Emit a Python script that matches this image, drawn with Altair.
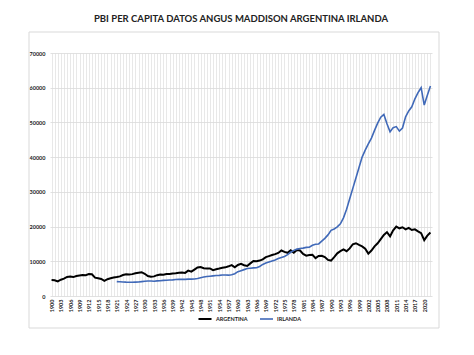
import altair as alt
import pandas as pd

years_arg = list(range(1900, 2023))
argentina = [
    4600, 4550, 4200, 4700, 5000, 5500, 5600, 5450, 5750, 5900,
    6050, 6000, 6300, 6250, 5300, 5100, 4900, 4350, 4850, 5100,
    5300, 5450, 5650, 6050, 6250, 6200, 6300, 6550, 6700, 6850,
    6400, 5750, 5550, 5650, 6000, 6200, 6150, 6350, 6350, 6500,
    6550, 6700, 6750, 6650, 7300, 7000, 7600, 8200, 8350, 8000,
    7900, 7950, 7450, 7700, 7900, 8150, 8250, 8550, 8900, 8250,
    8950, 9250, 8850, 8650, 9400, 10100, 10000, 10200, 10550, 11200,
    11500, 11800, 12050, 12400, 13100, 12700, 12450, 13150, 12450, 13250,
    13100, 12100, 11600, 11800, 11850, 10900, 11550, 11600, 11200, 10400,
    10200, 11200, 12300, 12900, 13400, 12900, 13700, 14900, 15200, 14700,
    14300, 13600, 12200, 13100, 14300, 15200, 16400, 17600, 18400, 17200,
    18900, 20000, 19500, 19800, 19200, 19600, 19000, 19200, 18600, 18100,
    16100, 17400, 18300,
]

years_irl = list(range(1921, 2023))
irlanda = [
    4150, 4100, 4050, 4000, 3980, 3950, 4000, 4050, 4150,
    4250, 4300, 4300, 4250, 4350, 4400, 4500, 4550, 4600, 4650,
    4750, 4800, 4800, 4800, 4850, 4850, 4900, 5050, 5250, 5450,
    5600, 5700, 5800, 5900, 5950, 6050, 6050, 6000, 6100, 6400,
    7000, 7300, 7600, 7900, 8000, 8100, 8150, 8500, 9100, 9500,
    9800, 10100, 10400, 10800, 11100, 11400, 11900, 12600, 13150, 13500,
    13700, 13800, 14000, 14050, 14600, 14900, 15000, 15800, 16600, 17600,
    18900, 19300, 19900, 20800, 22500, 25000, 28000, 31000, 34000, 37000,
    40000, 42000, 43800, 45500, 47700, 49800, 51500, 52300, 49600, 47300,
    48500, 48800, 47500, 48400, 51600, 53300, 54500, 56800, 58600, 60000,
    55000, 57800, 60500,
]

series_names = ["ARGENTINA", "IRLANDA"]
series_colors = ["#000000", "#4069B8"]
y_ticks = [0, 10000, 20000, 30000, 40000, 50000, 60000, 70000]
title_text = "PBI PER CAPITA DATOS ANGUS MADDISON ARGENTINA IRLANDA"

df = pd.concat([
    pd.DataFrame({"year": years_arg, "pbi": argentina, "serie": series_names[0]}),
    pd.DataFrame({"year": years_irl, "pbi": irlanda, "serie": series_names[1]}),
])

W, H = 382, 243

frame = alt.Chart(pd.DataFrame({"a": [0]})).mark_rect(
    fillOpacity=0, stroke="#d9d9d9", strokeWidth=1
).encode(
    x=alt.value(-21), x2=alt.value(389), y=alt.value(-21), y2=alt.value(275)
)

lines = alt.Chart(df).mark_line(interpolate="linear").encode(
    x=alt.X(
        "year:Q",
        scale=alt.Scale(domain=[1899.5, 2022.5], nice=False, zero=False),
        axis=alt.Axis(
            title=None,
            values=list(range(1900, 2023)),
            labelExpr="datum.value % 3 == 1 ? datum.value + '' : ''",
            labelAngle=270,
            labelFontSize=5.5,
            labelFont="Lato",
            labelFontWeight="bold",
            labelColor="#222222",
            labelPadding=3,
            ticks=False,
            domain=False,
            grid=True,
            gridColor="#dedede",
            gridWidth=0.7,
            labelOverlap=False,
            labelBound=False,
            labelFlush=False,
        ),
    ),
    y=alt.Y(
        "pbi:Q",
        scale=alt.Scale(domain=[0, 70000], nice=False),
        axis=alt.Axis(
            title=None,
            values=y_ticks,
            format="d",
            labelFontSize=5.5,
            labelFont="Lato",
            labelFontWeight="bold",
            labelColor="#222222",
            labelPadding=5,
            ticks=False,
            domain=False,
            grid=True,
            gridColor="#d9d9d9",
            gridWidth=0.8,
        ),
    ),
    color=alt.Color(
        "serie:N",
        scale=alt.Scale(domain=series_names, range=series_colors),
        legend=alt.Legend(
            title=None,
            orient="none",
            legendX=147,
            legendY=258,
            direction="horizontal",
            symbolType="stroke",
            symbolSize=170,
            symbolStrokeWidth=1.8,
            labelFontSize=5.5,
            labelFont="Lato",
            labelFontWeight="bold",
            labelColor="#222222",
            columnPadding=8,
            labelOffset=3,
        ),
    ),
    strokeWidth=alt.StrokeWidth(
        "serie:N",
        scale=alt.Scale(domain=series_names, range=[2.0, 1.6]),
        legend=None,
    ),
)

chart = alt.layer(frame, lines).properties(
    width=W,
    height=H,
    title=alt.TitleParams(
        text=title_text,
        font="Lato",
        fontSize=9.5,
        fontWeight="bold",
        color="#222222",
        anchor="middle",
        offset=8,
    ),
    autosize=alt.AutoSizeParams(type="none"),
    padding={"left": 50, "top": 53, "right": 42, "bottom": 59},
    background="white",
).configure_view(stroke=None)

chart.save("out.html", embed_options={"renderer": "svg", "actions": False})
